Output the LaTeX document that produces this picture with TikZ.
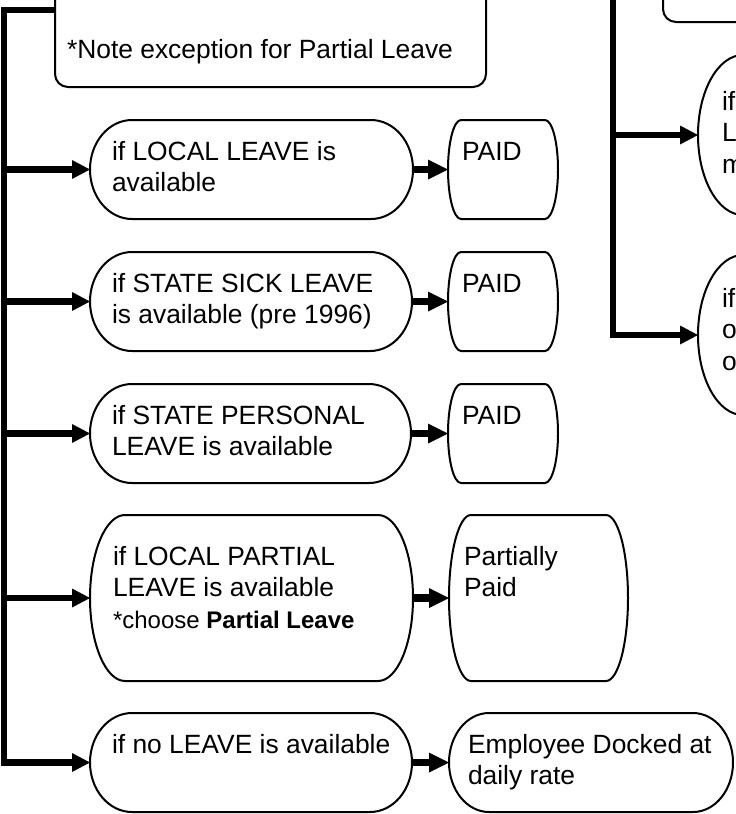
\documentclass[tikz,border=0pt]{standalone}
\usepackage{fontspec}
\setmainfont{Liberation Sans}
\usetikzlibrary{arrows.meta,calc}

\newcommand{\btext}[5]{\parbox[c][#2pt][t]{#1pt}{\fontsize{26.4}{31.5}\selectfont\raggedright\leftskip=#3pt\relax\rule{0pt}{#4pt}#5}}
\newcommand{\termpath}[3]{%
  \draw[outl] ($(#1.north west)+(#2,0)$) -- ($(#1.north east)+(-#2,0)$)
    arc[start angle=90,end angle=-90,x radius=#2pt,y radius=#3pt]
    -- ($(#1.south west)+(#2,0)$)
    arc[start angle=270,end angle=90,x radius=#2pt,y radius=#3pt] -- cycle;}

\tikzset{
  outl/.style={draw=black, line width=2pt, line join=round},
  shp/.style={inner sep=0pt, outer sep=0pt, anchor=north west},
  rbox/.style={shp, draw=black, line width=2pt, rounded corners=13pt},
  busarrow/.style={line width=6.5pt, line join=miter, -{Triangle[length=18pt,width=19pt,line width=0pt]}},
  shortarrow/.style={line width=7.5pt, -{Triangle[length=20pt,width=20pt,line width=0pt]}},
}

\begin{document}
\begin{tikzpicture}[x=1pt,y=-1pt]
\useasboundingbox (0,0) rectangle (736,814);
\clip (0,0) rectangle (736,814);
\fill[white] (0,0) rectangle (736,814);

% boxes at the top
\node[rbox] (note) at (55,-67) {\btext{431}{154}{12}{125}{*Note exception for Partial Leave}};
\node[rbox, minimum width=200pt, minimum height=122pt] (tr) at (663,-100) {};

% left column
\node[shp] (l1) at (90,120) {\btext{323}{99}{22}{40}{if LOCAL LEAVE is\\available}};
\node[shp] (l2) at (90,252) {\btext{322}{99}{22}{40}{if STATE SICK LEAVE\\is available (pre 1996)}};
\node[shp] (l3) at (90,384) {\btext{321}{99}{22}{40}{if STATE PERSONAL\\LEAVE is available}};
\node[shp] (l4) at (90,515) {\btext{323}{166}{23}{50}{if LOCAL PARTIAL\\LEAVE is available\\{\fontsize{24}{31}\selectfont *choose \textbf{Partial Leave}}}};
\node[shp] (l5) at (90,713) {\btext{322}{99}{22}{40}{if no LEAVE is available}};

% results
\node[shp] (p1) at (448,120) {\btext{110}{99}{14}{40}{PAID}};
\node[shp] (p2) at (448,252) {\btext{110}{99}{14}{40}{PAID}};
\node[shp] (p3) at (448,384) {\btext{110}{99}{14}{40}{PAID}};
\node[shp] (pp) at (449,515) {\btext{179}{166}{15}{50}{Partially\\Paid}};
\node[shp] (ed) at (449,713) {\btext{284}{99}{19}{40}{Employee Docked at\\daily rate}};

% right column (cut off by the picture edge, as in the reference)
\node[shp] (r1) at (698,55) {\btext{200}{160}{24}{55}{if\\L\\m}};
\node[shp] (r2) at (698,255) {\btext{200}{160}{24}{52}{if\\o\\o}};

\termpath{l1}{42}{49.5}
\termpath{l2}{42}{49.5}
\termpath{l3}{42}{49.5}
\termpath{l4}{35}{83}
\termpath{l5}{42}{49.5}
\termpath{p1}{13}{49.5}
\termpath{p2}{13}{49.5}
\termpath{p3}{13}{49.5}
\termpath{pp}{22}{83}
\termpath{ed}{40}{49.5}
\termpath{r1}{45}{80}
\termpath{r2}{45}{80}

% left bus
\coordinate (bt) at (4,10);
\draw[busarrow] (note.west) -- (bt) -- (bt |- l5.west) -- (l5.west);
\draw[busarrow] (bt |- l1.west) -- (l1.west);
\draw[busarrow] (bt |- l2.west) -- (l2.west);
\draw[busarrow] (bt |- l3.west) -- (l3.west);
\draw[busarrow] (bt |- l4.west) -- (l4.west);

% right bus
\coordinate (rt) at (613,-10);
\draw[busarrow] (rt) -- (rt |- r2.west) -- (r2.west);
\draw[busarrow] (rt |- r1.west) -- (r1.west);

% short connectors
\draw[shortarrow] (l1.east) -- (p1.west);
\draw[shortarrow] (l2.east) -- (p2.west);
\draw[shortarrow] (l3.east) -- (p3.west);
\draw[shortarrow] (l4.east) -- (pp.west);
\draw[shortarrow] (l5.east) -- (ed.west);
\end{tikzpicture}
\end{document}
